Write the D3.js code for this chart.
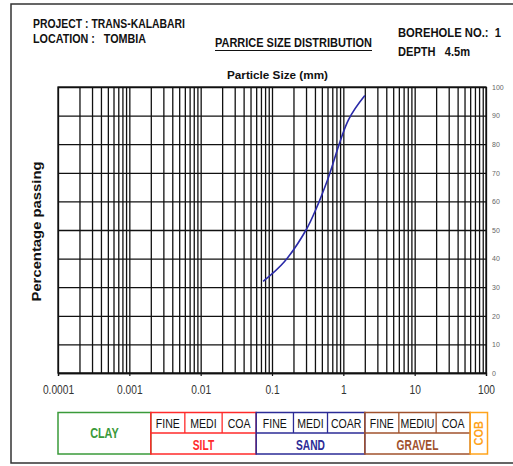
<!DOCTYPE html>
<html>
<head>
<meta charset="utf-8">
<script src="https://cdn.jsdelivr.net/npm/d3@7"></script>
<style>
  html, body { margin: 0; padding: 0; background: #fff; }
  svg { display: block; }
  text { font-family: "Liberation Sans", Arial, sans-serif; }
</style>
</head>
<body>
<div id="chart"></div>
<script>
// ---- data ----
const sieveSizes = [0.075, 0.15, 0.3, 0.425, 0.6, 1.18, 2.0];      // mm
const percentPassing = [32, 39, 50, 58, 67.5, 88.5, 97];          // %
const xTickLabels = [0.0001, 0.001, 0.01, 0.1, 1, 10, 100];
const yTickLabels = [0, 10, 20, 30, 40, 50, 60, 70, 80, 90, 100];
const soilNames = ["CLAY", "SILT", "SAND", "GRAVEL", "COB"];
const soilBounds = [[0.0001, 0.002], [0.002, 0.06], [0.06, 2], [2, 60], [60, 100]];
const soilColors = ["#3a9a3a", "#ff2a2a", "#2b2b96", "#a0522d", "#ffa41c"];
const subNames = {
  SILT: ["FINE", "MEDI", "COA"],
  SAND: ["FINE", "MEDI", "COAR"],
  GRAVEL: ["FINE", "MEDIU", "COA"]
};
const subBounds = {
  SILT: [0.002, 0.006, 0.02, 0.06],
  SAND: [0.06, 0.2, 0.6, 2],
  GRAVEL: [2, 6, 20, 60]
};

// ---- layout ----
const W = 513, H = 466;
const L = 58, R = 486, T = 87, B = 373;

const svg = d3.select("#chart").append("svg").attr("width", W).attr("height", H);

// emulate a narrow font by compressing glyphs horizontally
function narrow(sel, f) {
  sel.each(function () {
    const w = this.getComputedTextLength();
    d3.select(this).attr("textLength", w * f).attr("lengthAdjust", "spacingAndGlyphs");
  });
}

// outer frame
svg.append("path")
  .attr("d", `M${W + 5},4 H11 V463 H${W + 5}`)
  .attr("fill", "none").attr("stroke", "#333").attr("stroke-width", 1.5);

const x = d3.scaleLog().domain([0.0001, 100]).range([L, R]);
const y = d3.scaleLinear().domain([0, 100]).range([B, T]);

// vertical grid values (1..9 of each decade)
const gridX = [];
for (let e = -4; e < 2; e++) for (let m = 1; m <= 9; m++) gridX.push(m * Math.pow(10, e));
gridX.push(100);

// vertical grid
const gx = svg.append("g").attr("transform", `translate(0,${B})`)
  .call(d3.axisBottom(x).tickValues(gridX).tickSize(-(B - T)).tickFormat(""));
gx.select(".domain").remove();
gx.selectAll("line").attr("stroke", "#111").attr("stroke-width", 1.3);

// horizontal grid + right labels
const gy = svg.append("g").attr("transform", `translate(${R},0)`)
  .call(d3.axisRight(y).tickValues(yTickLabels).tickSize(-(R - L)).tickPadding(6));
gy.select(".domain").remove();
gy.selectAll("line").attr("stroke", "#111").attr("stroke-width", 1.3);
gy.selectAll("text").attr("font-size", 7).attr("fill", "#666")
  .attr("font-family", "Liberation Sans, Arial, sans-serif");

// bottom axis with decade labels
const ax = svg.append("g").attr("transform", `translate(0,${B})`)
  .call(d3.axisBottom(x).tickValues(xTickLabels).tickSize(3).tickPadding(9));
ax.select(".domain").attr("stroke", "#111").attr("stroke-width", 1.3);
ax.selectAll("line").attr("stroke", "#111").attr("stroke-width", 1.2);
ax.selectAll("text").attr("font-size", 12).attr("fill", "#333")
  .attr("font-family", "Liberation Sans, Arial, sans-serif")
  .text(d => d === 0.0001 ? "0.0001" : String(d));
narrow(ax.selectAll("text"), 0.85);

// plot border
svg.append("rect").attr("x", L).attr("y", T).attr("width", R - L).attr("height", B - T)
  .attr("fill", "none").attr("stroke", "#111").attr("stroke-width", 1.3);

// curve
const pts = sieveSizes.map((s, i) => [s, percentPassing[i]]);
svg.append("path")
  .datum(pts)
  .attr("d", d3.line().x(d => x(d[0])).y(d => y(d[1])).curve(d3.curveCatmullRom.alpha(0.5)))
  .attr("fill", "none").attr("stroke", "#2a2aa8").attr("stroke-width", 1.6);

// ---- header texts ----
function txt(s, px, py, opts = {}) {
  const t = svg.append("text").attr("x", px).attr("y", py).text(s)
    .attr("font-size", opts.size || 12.5)
    .attr("font-weight", opts.weight || "bold")
    .attr("fill", opts.fill || "#111")
    .attr("xml:space", "preserve")
    .style("white-space", "pre");
  if (opts.len) t.attr("textLength", opts.len).attr("lengthAdjust", "spacingAndGlyphs");
  if (opts.anchor) t.attr("text-anchor", opts.anchor);
  return t;
}
txt("PROJECT : TRANS-KALABARI", 33, 28, { len: 152 });
txt("LOCATION :   TOMBIA", 33, 43, { len: 113 });
txt("PARRICE SIZE DISTRIBUTION", 215, 47, { len: 157 });
svg.append("line").attr("x1", 215).attr("x2", 372).attr("y1", 50.5).attr("y2", 50.5)
  .attr("stroke", "#111").attr("stroke-width", 1);
txt("BOREHOLE NO.:  1", 398, 37, { len: 103 });
txt("DEPTH   4.5m", 398, 56, { len: 72 });
txt("Particle Size (mm)", 227, 79, { len: 101, size: 11.5 });

// y title
svg.append("text")
  .attr("transform", `translate(41,231.5) rotate(-90)`)
  .attr("text-anchor", "middle")
  .attr("font-size", 12.5).attr("font-weight", "bold").attr("fill", "#111")
  .attr("textLength", 140).attr("lengthAdjust", "spacingAndGlyphs")
  .text("Percentage passing");

// ---- soil classification legend ----
const LT = 412.5, LM = 433, LB = 454;
const lg = svg.append("g");
soilNames.forEach((name, i) => {
  const [a, b] = soilBounds[i];
  const x0 = x(a), x1 = x(b) + (name === "COB" ? 1.5 : 0);
  const col = soilColors[i];
  lg.append("rect").attr("x", x0).attr("y", LT).attr("width", x1 - x0).attr("height", LB - LT)
    .attr("fill", "none").attr("stroke", col).attr("stroke-width", 1.5);
  if (subNames[name]) {
    lg.append("line").attr("x1", x0).attr("x2", x1).attr("y1", LM).attr("y2", LM)
      .attr("stroke", col).attr("stroke-width", 1.3);
    const bs = subBounds[name];
    for (let k = 1; k < bs.length - 1; k++) {
      lg.append("line").attr("x1", x(bs[k])).attr("x2", x(bs[k])).attr("y1", LT).attr("y2", LM)
        .attr("stroke", col).attr("stroke-width", 1.3);
    }
    subNames[name].forEach((s, k) => {
      const t = lg.append("text").attr("x", (x(bs[k]) + x(bs[k + 1])) / 2).attr("y", 427.5)
        .attr("text-anchor", "middle").attr("font-size", 13.5).attr("fill", "#111")
        .attr("font-weight", 500)
        .text(s);
      narrow(t, 0.78);
    });
    const t2 = lg.append("text").attr("x", (x0 + x1) / 2).attr("y", 449.5)
      .attr("text-anchor", "middle").attr("font-size", 15).attr("font-weight", "bold")
      .attr("fill", col).text(name);
    narrow(t2, 0.68);
  } else if (name === "CLAY") {
    const t3 = lg.append("text").attr("x", (x0 + x1) / 2).attr("y", 437.5)
      .attr("text-anchor", "middle").attr("font-size", 15.5).attr("font-weight", "bold")
      .attr("fill", col).text(name);
    narrow(t3, 0.7);
  } else {
    const t4 = lg.append("text").attr("transform", `translate(${(x0 + x1) / 2 + 4.5},${(LT + LB) / 2}) rotate(-90)`)
      .attr("text-anchor", "middle").attr("font-size", 13).attr("font-weight", "bold")
      .attr("fill", col).text(name);
    narrow(t4, 0.85);
  }
});
</script>
</body>
</html>
